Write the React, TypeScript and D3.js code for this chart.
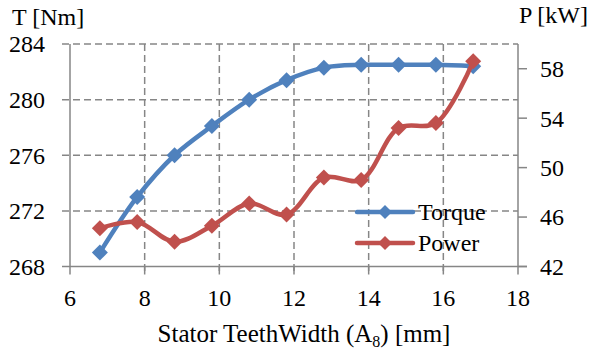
import React from "react";
import * as d3 from "d3";

// Stator teeth width sweep [mm]
const toothWidth = [6.8, 7.8, 8.8, 9.8, 10.8, 11.8, 12.8, 13.8, 14.8, 15.8, 16.8];
// Torque [Nm]
const torque = [269.0, 273.0, 276.0, 278.1, 280.0, 281.4, 282.3, 282.5, 282.5, 282.5, 282.4];
// Power [kW]
const power = [45.1, 45.6, 44.0, 45.3, 47.1, 46.2, 49.2, 49.0, 53.2, 53.6, 58.6];

const xTicks = [6, 8, 10, 12, 14, 16, 18];
const torqueTicks = [268, 272, 276, 280, 284];
const powerTicks = [42, 46, 50, 54, 58];

const W = 591;
const H = 350;
const plot = { left: 70, right: 518, top: 44, bottom: 266.5 };

const AXIS = "#868686";
const BLUE = "#4F81BD";
const RED = "#C0504D";
const FONT = "'Liberation Serif', 'Times New Roman', serif";
const txt = { fontFamily: FONT };

const x = d3.scaleLinear().domain([6, 18]).range([plot.left, plot.right]);
const yT = d3.scaleLinear().domain([268, 284]).range([plot.bottom, plot.top]);
const yP = d3.scaleLinear().domain([42, 60]).range([plot.bottom, plot.top]);

const diamond = (cx: number, cy: number, r: number) =>
  `M${cx},${cy - r}L${cx + r},${cy}L${cx},${cy + r}L${cx - r},${cy}Z`;

const smooth = d3.line<[number, number]>().curve(d3.curveCatmullRom.alpha(0.5));

export default function App() {
  const torquePts: [number, number][] = toothWidth.map((w, i) => [x(w), yT(torque[i])]);
  const powerPts: [number, number][] = toothWidth.map((w, i) => [x(w), yP(power[i])]);

  const legend = [
    { name: "Torque", color: BLUE, y: 212 },
    { name: "Power", color: RED, y: 243 },
  ];
  const legendX0 = 357;
  const legendX1 = 413;

  return (
    <svg
      width={W}
      height={H}
      style={{ position: "absolute", left: 0, top: 0, display: "block", background: "#fff", fontFamily: FONT }}
    >
      {/* horizontal dashed gridlines on torque ticks */}
      {torqueTicks.slice(1).map((t) => (
        <line
          key={"hg" + t}
          x1={plot.left - 8}
          x2={plot.right}
          y1={yT(t)}
          y2={yT(t)}
          stroke={AXIS}
          strokeWidth={1.5}
          strokeDasharray="7,4"
        />
      ))}
      {/* vertical dashed gridlines */}
      {xTicks.slice(1, -1).map((t) => (
        <line
          key={"vg" + t}
          x1={x(t)}
          x2={x(t)}
          y1={plot.top}
          y2={plot.bottom + 8}
          stroke={AXIS}
          strokeWidth={1.5}
          strokeDasharray="7,4"
        />
      ))}

      {/* axes */}
      <line x1={plot.left} x2={plot.left} y1={plot.top} y2={plot.bottom} stroke={AXIS} strokeWidth={1.5} />
      <line x1={plot.right} x2={plot.right} y1={plot.top} y2={plot.bottom} stroke={AXIS} strokeWidth={1.5} />
      <line x1={plot.left - 8} x2={plot.right + 9} y1={plot.bottom} y2={plot.bottom} stroke={AXIS} strokeWidth={1.5} />
      {xTicks.map((t) => (
        <line key={"xt" + t} x1={x(t)} x2={x(t)} y1={plot.bottom} y2={plot.bottom + 8} stroke={AXIS} strokeWidth={1.5} />
      ))}
      {powerTicks.map((t) => (
        <line key={"pt" + t} x1={plot.right} x2={plot.right + 9} y1={yP(t)} y2={yP(t)} stroke={AXIS} strokeWidth={1.5} />
      ))}

      {/* tick labels */}
      {torqueTicks.map((t) => (
        <text key={"tl" + t} x={45} y={yT(t)} dy="0.35em" textAnchor="end" fontSize={24} fill="#000" style={txt}>
          {t}
        </text>
      ))}
      {powerTicks.map((t) => (
        <text key={"pl" + t} x={540} y={yP(t)} dy="0.35em" textAnchor="start" fontSize={24} fill="#000" style={txt}>
          {t}
        </text>
      ))}
      {xTicks.map((t) => (
        <text key={"xl" + t} x={x(t)} y={306} textAnchor="middle" fontSize={24} fill="#000" style={txt}>
          {t}
        </text>
      ))}

      {/* axis titles */}
      <text x={12} y={25} fontSize={24} fill="#000" style={txt}>T [Nm]</text>
      <text x={588} y={23} textAnchor="end" fontSize={24} fill="#000" style={txt}>P [kW]</text>
      <text x={304} y={342} textAnchor="middle" fontSize={25} fill="#000" style={txt}>
        Stator TeethWidth (A<tspan fontSize={16} dy={5}>8</tspan>
        <tspan dy={-5}>) [mm]</tspan>
      </text>

      {/* series */}
      <path d={smooth(torquePts) ?? ""} fill="none" stroke={BLUE} strokeWidth={4.5} strokeLinejoin="round" />
      {torquePts.map(([px, py], i) => (
        <path key={"tm" + i} d={diamond(px, py, 8)} fill={BLUE} />
      ))}
      <path d={smooth(powerPts) ?? ""} fill="none" stroke={RED} strokeWidth={4.5} strokeLinejoin="round" />
      {powerPts.map(([px, py], i) => (
        <path key={"pm" + i} d={diamond(px, py, 8)} fill={RED} />
      ))}

      {/* legend */}
      {legend.map((l) => (
        <g key={l.name}>
          <line x1={legendX0} x2={legendX1} y1={l.y} y2={l.y} stroke={l.color} strokeWidth={4.5} strokeLinecap="round" />
          <path d={diamond((legendX0 + legendX1) / 2, l.y, 7)} fill={l.color} />
          <text x={418} y={l.y} dy="0.33em" fontSize={24} fill="#000" style={txt}>
            {l.name}
          </text>
        </g>
      ))}
    </svg>
  );
}
